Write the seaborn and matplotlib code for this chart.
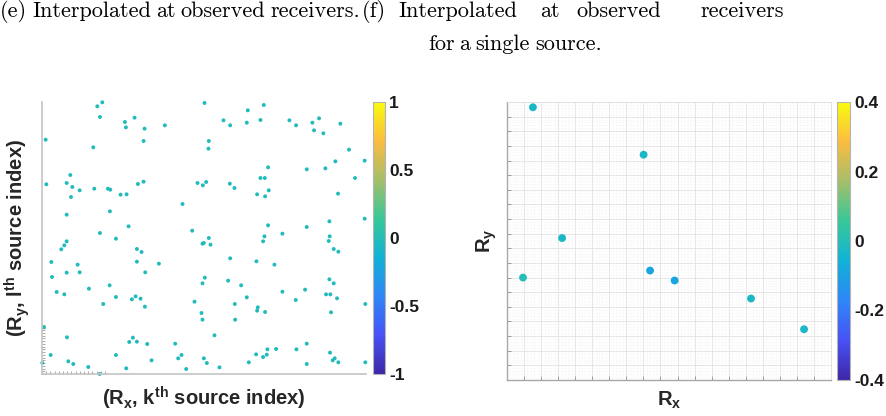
import numpy as np
import pandas as pd
import matplotlib
matplotlib.use("Agg")
import matplotlib.pyplot as plt
import seaborn as sns
from matplotlib.colors import LinearSegmentedColormap, Normalize
from matplotlib.cm import ScalarMappable
from matplotlib.ticker import FixedLocator, NullFormatter, MultipleLocator

# ---------------- data ----------------
# (e) interpolated values at observed receivers (all close to 0)
left_rx = [181, 166, 488, 666, 618, 174, 278, 249, 252, 308, 369, 545, 565, 615, 656, 743, 763, 812, 832, 817,
           845, 896, 11, 305, 501, 500, 154, 922, 881, 969, 679, 795, 851, 85, 940, 13, 74, 91, 113, 157,
           198, 205, 288, 305, 467, 483, 493, 564, 578, 656, 669, 681, 87, 236, 254, 646, 670, 889, 422, 204,
           74, 969, 679, 260, 795, 863, 451, 174, 722, 222, 501, 668, 864, 74, 67, 58, 482, 486, 506, 664,
           861, 285, 299, 876, 890, 28, 285, 351, 565, 644, 698, 107, 74, 113, 310, 30, 489, 482, 559, 598,
           863, 876, 141, 203, 44, 67, 222, 270, 281, 296, 458, 615, 722, 762, 790, 853, 866, 886, 184, 309,
           479, 482, 579, 580, 648, 646, 670, 868, 971, 6, 75, 273, 262, 285, 316, 518, 400, 703, 677, 764,
           795, 26, 222, 419, 409, 486, 643, 675, 664, 865, 879, 873, 890, 1, 79, 94, 329, 495, 621, 795,
           971, 139, 253, 433, 533, 173]
left_ry = [815, 803, 813, 807, 791, 771, 769, 756, 740, 736, 746, 761, 746, 754, 762, 761, 746, 754, 767, 731,
           722, 751, 703, 699, 699, 676, 680, 673, 638, 640, 620, 614, 617, 597, 588, 569, 573, 561, 551, 556,
           556, 553, 570, 577, 573, 566, 576, 571, 558, 588, 588, 551, 531, 538, 539, 539, 533, 541, 510, 488,
           478, 466, 446, 443, 441, 458, 430, 423, 421, 406, 408, 413, 413, 398, 386, 374, 391, 393, 388, 398,
           399, 375, 366, 375, 367, 336, 337, 331, 347, 338, 328, 328, 304, 305, 305, 291, 289, 272, 280, 266,
           284, 272, 256, 266, 246, 239, 231, 224, 233, 226, 217, 230, 247, 222, 253, 239, 239, 227, 210, 202,
           183, 163, 210, 163, 200, 190, 186, 185, 210, 140, 110, 109, 96, 97, 90, 116, 91, 75, 74, 74,
           91, 57, 57, 57, 47, 47, 59, 58, 51, 64, 47, 41, 35, 33, 38, 30, 41, 33, 35, 30,
           35, 21, 17, 15, 20, 0]
left_value = -0.02

# (f) interpolated at observed receivers for a single source
right_rx = [1.52, 8.01, 3.23, 0.94, 8.39, 9.83, 14.31, 17.42]
right_ry = [18.64, 15.40, 9.70, 7.00, 7.48, 6.80, 5.57, 3.47]
right_val = [-0.03, -0.03, -0.03, 0.0, -0.09, -0.09, -0.03, -0.03]

left_cbar_ticks = [-1, -0.5, 0, 0.5, 1]
left_cbar_labels = ["-1", "-0.5", "0", "0.5", "1"]
right_cbar_ticks = [-0.4, -0.2, 0, 0.2, 0.4]
right_cbar_labels = ["-0.4", "-0.2", "0", "0.2", "0.4"]

# ---------------- style ----------------
sns.set_style("white")
plt.rcParams["font.family"] = ["Liberation Sans", "DejaVu Sans"]
plt.rcParams["mathtext.fontset"] = "custom"
plt.rcParams["mathtext.rm"] = "Liberation Sans:bold"
plt.rcParams["mathtext.bf"] = "Liberation Sans:bold"
plt.rcParams["mathtext.it"] = "Liberation Sans:bold"
plt.rcParams["mathtext.default"] = "bf"

parula = LinearSegmentedColormap.from_list("parula", [
    (0.0, (0.2422, 0.1504, 0.6603)),
    (1 / 7, (0.2810, 0.3228, 0.9579)),
    (2 / 7, (0.1786, 0.5289, 0.9682)),
    (3 / 7, (0.0689, 0.6948, 0.8394)),
    (4 / 7, (0.2161, 0.7843, 0.5923)),
    (5 / 7, (0.6473, 0.7456, 0.4188)),
    (6 / 7, (0.9856, 0.7372, 0.2537)),
    (1.0, (0.9763, 0.9831, 0.0538)),
])

W, H = 887, 416
fig = plt.figure(figsize=(W / 100, H / 100), dpi=100)


def fbox(x0, y0, x1, y1):
    return [x0 / W, 1 - y1 / H, (x1 - x0) / W, (y1 - y0) / H]


axL = fig.add_axes(fbox(42, 102, 366, 374))
caxL = fig.add_axes(fbox(373, 102, 385, 374))
axR = fig.add_axes(fbox(507, 102, 831, 380))
caxR = fig.add_axes(fbox(837, 102, 850, 380))

# ---------------- left panel ----------------
dfL = pd.DataFrame({"Rx": left_rx, "Ry": left_ry, "val": [left_value] * len(left_rx)})
sns.scatterplot(data=dfL, x="Rx", y="Ry", hue="val", palette=parula, hue_norm=(-1, 1),
                s=8, linewidth=0, legend=False, ax=axL, clip_on=False)
axL.set_xlim(0, 973)
axL.set_ylim(0, 816)
for s in ["top", "right"]:
    axL.spines[s].set_visible(False)
for s in ["left", "bottom"]:
    axL.spines[s].set_color("#c4c4c4")
    axL.spines[s].set_linewidth(1.2)
axL.xaxis.set_major_locator(FixedLocator(np.arange(0, 200, 12.6)))
axL.yaxis.set_major_locator(FixedLocator(np.arange(0, 150, 8.2)))
axL.xaxis.set_major_formatter(NullFormatter())
axL.yaxis.set_major_formatter(NullFormatter())
axL.tick_params(direction="in", length=2.5, width=0.6, color="#9a9a9a",
                bottom=True, left=True, top=False, right=False)
axL.set_xlabel(r"(R$_\mathbf{x}$, k$^\mathbf{th}$ source index)", fontsize=14.5, fontweight="bold")
axL.set_ylabel(r"(R$_\mathbf{y}$, l$^\mathbf{th}$ source index)", fontsize=14.5, fontweight="bold")
axL.xaxis.set_label_coords(0.5, (374 - 398) / 272)
axL.xaxis.label.set_va("center")
axL.yaxis.set_label_coords((17 - 42) / 324, 0.5)
axL.yaxis.label.set_va("center")

# ---------------- right panel ----------------
dfR = pd.DataFrame({"Rx": right_rx, "Ry": right_ry, "val": right_val})
sns.scatterplot(data=dfR, x="Rx", y="Ry", hue="val", palette=parula, hue_norm=(-0.4, 0.4),
                s=32, linewidth=0, legend=False, ax=axR, zorder=3)
axR.set_xlim(0, 19)
axR.set_ylim(0, 19)
axR.xaxis.set_major_locator(FixedLocator(np.arange(1, 19)))
axR.yaxis.set_major_locator(FixedLocator(np.arange(1, 19)))
axR.xaxis.set_minor_locator(MultipleLocator(0.2))
axR.yaxis.set_minor_locator(MultipleLocator(0.2))
axR.xaxis.set_major_formatter(NullFormatter())
axR.yaxis.set_major_formatter(NullFormatter())
axR.grid(which="major", color="#e2e2e2", linewidth=0.6)
axR.grid(which="minor", color="#eeeeee", linewidth=0.4, linestyle=":")
axR.set_axisbelow(True)
axR.tick_params(which="major", direction="in", length=3, width=0.6, color="#8c8c8c",
                bottom=True, left=True, top=False, right=False)
axR.tick_params(which="minor", length=0)
for s in ["top", "right"]:
    axR.spines[s].set_color("#dcdcdc")
    axR.spines[s].set_linewidth(0.6)
for s in ["left", "bottom"]:
    axR.spines[s].set_color("#a8a8a8")
    axR.spines[s].set_linewidth(1.0)
axR.set_xlabel(r"R$_\mathbf{x}$", fontsize=14.5, fontweight="bold")
axR.set_ylabel(r"R$_\mathbf{y}$", fontsize=14.5, fontweight="bold")
axR.xaxis.set_label_coords(0.5, (380 - 400) / 278)
axR.xaxis.label.set_va("center")
axR.yaxis.set_label_coords((487 - 507) / 324, 0.5)
axR.yaxis.label.set_va("center")

# ---------------- colorbars ----------------
for cax, lim, ticks, labels in [(caxL, (-1, 1), left_cbar_ticks, left_cbar_labels),
                                (caxR, (-0.4, 0.4), right_cbar_ticks, right_cbar_labels)]:
    sm = ScalarMappable(norm=Normalize(*lim), cmap=parula)
    cb = fig.colorbar(sm, cax=cax)
    cb.set_ticks(ticks)
    cb.set_ticklabels(labels)
    cb.outline.set_edgecolor("#b4b4b4")
    cb.outline.set_linewidth(0.8)
    cax.tick_params(direction="in", length=2, width=0.6, color="#555555", labelsize=12.5, pad=3)
    for t in cax.get_yticklabels():
        t.set_fontweight("bold")
        t.set_color("#1a1a1a")

# ---------------- captions (word by word, TeX-like spacing) ----------------
cap = dict(family="cmr10", fontsize=16, va="baseline", color="black")
renderer = fig.canvas.get_renderer()


def set_line(words, x0, y, gap=5.0):
    texts = [fig.text(0, y, w, **cap) for w in words]
    x = x0
    for t in texts:
        t.set_x(x / W)
        x += t.get_window_extent(renderer).width + gap


set_line(["(e)", "Interpolated", "at", "observed", "receivers."], 0, 1 - 17 / H)
for word, x in [("(f)", 362), ("Interpolated", 398), ("at", 540), ("observed", 576), ("receivers", 700)]:
    fig.text(x / W, 1 - 17 / H, word, **cap)
set_line(["for", "a", "single", "source."], 428, 1 - 50 / H)

fig.savefig("out.png", dpi=100)
